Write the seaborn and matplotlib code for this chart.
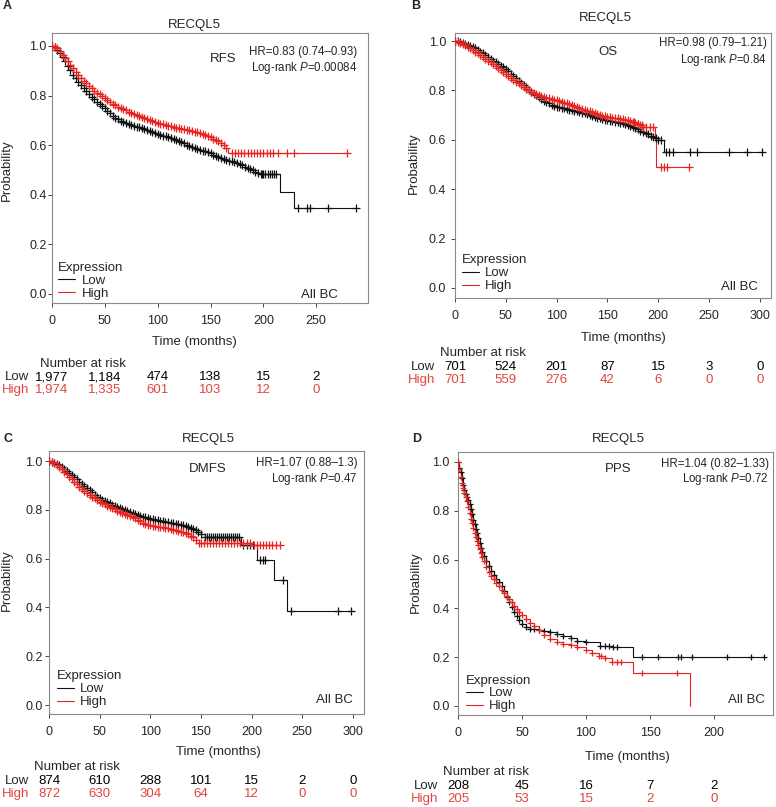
import matplotlib
matplotlib.use("Agg")
import matplotlib.pyplot as plt
import matplotlib.transforms as mtransforms
import seaborn as sns
import numpy as np

sns.set_style("ticks")
plt.rcParams["font.family"] = ["Liberation Sans", "DejaVu Sans"]
plt.rcParams["mathtext.fontset"] = "custom"
plt.rcParams["mathtext.rm"] = "Liberation Sans"
plt.rcParams["mathtext.it"] = "Liberation Sans:italic"

W, H = 776, 807
LOW_COLOR = "#111111"
HIGH_COLOR = "#e8231f"
RISK_RED = "#e0463f"
FRAME = "#8a8a8a"

grid_t = [0, 2.5, 5, 7.5, 10, 12.5, 15, 17.5, 20, 22.5,
          25, 27.5, 30, 32.5, 35, 37.5, 40, 42.5, 45, 47.5,
          50, 52.5, 55, 57.5, 60, 62.5, 65, 67.5, 70, 72.5,
          75, 77.5, 80, 82.5, 85, 87.5, 90, 92.5, 95, 97.5,
          100, 102.5, 105, 107.5, 110, 112.5, 115, 117.5, 120, 122.5,
          125, 127.5, 130, 132.5, 135, 137.5, 140, 142.5, 145, 147.5,
          150, 152.5, 155, 157.5, 160, 162.5, 165, 167.5, 170, 172.5,
          175, 177.5, 180, 182.5, 185, 187.5, 190, 192.5, 195, 197.5]

# --------------------------------------------------
# Panel A: RFS
# --------------------------------------------------
a_low_t = grid_t + [200, 216, 229, 288]
a_low_s = [1.0, .995, .985, .972, .955, .938, .92, .902, .885, .87,
           .855, .842, .83, .817, .805, .795, .785, .775, .765, .757,
           .748, .738, .728, .718, .71, .704, .698, .693, .688, .684,
           .681, .678, .675, .672, .668, .664, .66, .656, .652, .648,
           .645, .641, .638, .636, .633, .629, .625, .62, .615, .611,
           .607, .602, .598, .594, .59, .585, .58, .578, .575, .571,
           .567, .561, .556, .552, .548, .545, .542, .538, .535, .533,
           .53, .525, .52, .514, .508, .503, .498, .492, .487, .485,
           .483, .412, .345, .345]
a_low_cens = [199, 202, 204, 206, 208, 210, 212, 233, 241, 244, 261, 288]
a_high_t = grid_t[:67] + [167, 279]
a_high_s = [1.0, .997, .99, .978, .965, .953, .94, .925, .91, .897,
            .885, .872, .86, .85, .84, .83, .82, .812, .805, .797,
            .79, .782, .775, .768, .762, .756, .75, .745, .74, .735,
            .731, .727, .723, .719, .715, .71, .706, .702, .698, .694,
            .69, .687, .684, .681, .679, .676, .673, .67, .668, .666,
            .664, .662, .66, .658, .655, .652, .648, .644, .64, .636,
            .632, .626, .62, .615, .61, .6, .59,
            .57, .57]
a_high_cens = [170, 173, 176, 179, 182, 185, 188, 191, 194, 197, 200, 203, 206, 209,
               214, 222, 229, 279]
a_risk_t = [0, 50, 100, 150, 200, 250]
a_risk_low = [1977, 1184, 474, 138, 15, 2]
a_risk_high = [1974, 1335, 601, 103, 12, 0]

# --------------------------------------------------
# Panel B: OS
# --------------------------------------------------
b_low_t = grid_t + [200, 206, 302]
b_low_s = [1.0, .998, .995, .992, .988, .984, .98, .975, .97, .964,
           .957, .95, .942, .935, .928, .92, .913, .907, .9, .893,
           .885, .877, .868, .859, .85, .84, .83, .821, .812, .803,
           .795, .787, .78, .773, .766, .759, .753, .747, .742, .738,
           .734, .732, .73, .727, .725, .722, .72, .717, .715, .712,
           .71, .707, .705, .701, .698, .694, .69, .687, .684, .682,
           .68, .678, .676, .674, .672, .67, .667, .663, .66, .655,
           .65, .646, .642, .637, .632, .627, .622, .617, .612, .606,
           .6, .55, .55]
b_low_cens = [203, 208, 211, 215, 231, 238, 270, 287, 302]
b_high_t = grid_t[:75] + [197, 198, 230]
b_high_s = [1.0, .997, .993, .988, .982, .976, .97, .964, .957, .95,
            .943, .935, .928, .92, .913, .905, .897, .89, .882, .875,
            .867, .859, .851, .843, .836, .828, .82, .813, .806, .8,
            .795, .79, .786, .782, .778, .774, .771, .768, .765, .762,
            .76, .756, .753, .75, .747, .743, .74, .736, .733, .729,
            .725, .721, .718, .715, .712, .708, .705, .701, .698, .695,
            .693, .691, .69, .689, .688, .686, .685, .682, .68, .677,
            .673, .668, .663, .658, .653,
            .60, .49, .49]
b_high_cens = [176, 180, 184, 188, 192, 195, 203, 206, 209, 230]
b_risk_t = [0, 50, 100, 150, 200, 250, 300]
b_risk_low = [701, 524, 201, 87, 15, 3, 0]
b_risk_high = [701, 559, 276, 42, 6, 0, 0]

# --------------------------------------------------
# Panel C: DMFS
# --------------------------------------------------
c_low_t = grid_t[:60] + [150, 154, 190, 205, 222, 235, 300]
c_low_s = [1.0, .997, .993, .988, .982, .975, .968, .96, .952, .944,
           .935, .925, .915, .906, .897, .888, .88, .871, .862, .854,
           .847, .841, .836, .831, .826, .821, .817, .812, .808, .804,
           .8, .795, .791, .786, .782, .778, .775, .772, .769, .766,
           .764, .762, .76, .757, .755, .753, .751, .749, .747, .744,
           .742, .74, .738, .736, .733, .73, .727, .722, .716, .709,
           .702, .687, .655, .596, .512, .384, .384]
c_low_cens = [156, 158, 160, 162, 164, 166, 168, 170, 172, 174, 176, 178, 180, 182, 184,
              186, 188, 192, 195, 198, 201, 208, 211, 213, 231, 239, 285, 298]
c_high_t = grid_t[:59] + [148, 200, 228]
c_high_s = [1.0, .996, .99, .983, .975, .966, .956, .946, .935, .925,
            .915, .905, .895, .886, .878, .87, .862, .854, .847, .84,
            .833, .827, .822, .817, .812, .807, .802, .797, .793, .788,
            .784, .78, .775, .77, .765, .759, .753, .747, .742, .739,
            .736, .734, .733, .731, .73, .728, .727, .725, .722, .719,
            .716, .713, .71, .707, .703, .699, .694, .687, .678,
            .665, .655, .655]
c_high_cens = [150, 153, 156, 159, 162, 165, 168, 171, 174, 177, 180, 183, 186, 189, 192,
               195, 198, 202, 205, 208, 211, 214, 217, 220, 224, 228]
c_risk_t = [0, 50, 100, 150, 200, 250, 300]
c_risk_low = [874, 610, 288, 101, 15, 2, 0]
c_risk_high = [872, 630, 304, 64, 12, 0, 0]

# --------------------------------------------------
# Panel D: PPS
# --------------------------------------------------
d_low_t = [0, 1, 2, 3, 4, 5, 6, 7, 8, 9, 10, 11, 12, 13, 14, 15, 16, 17, 18, 19, 20,
           22, 24, 26, 28, 30, 32, 34, 36, 38, 40, 42, 44, 46, 48, 50,
           53, 56, 59, 63, 67, 72, 77, 82, 88, 93, 100, 111, 120, 137, 239]
d_low_s = [1.0, 0.975, 0.96, 0.935, 0.905, 0.885, 0.87, 0.858, 0.843, 0.826, 0.808, 0.788,
           0.763, 0.745, 0.727, 0.71, 0.69, 0.668, 0.648, 0.63, 0.614,
           0.593, 0.573, 0.555, 0.538, 0.522, 0.508, 0.49, 0.471, 0.447, 0.425, 0.405,
           0.385, 0.369, 0.352, 0.335,
           0.322, 0.317, 0.315, 0.312, 0.308, 0.302, 0.295, 0.288, 0.278, 0.268, 0.262,
           0.247, 0.243, 0.20, 0.20]
d_low_cens = [115, 118, 121, 124, 144, 156, 172, 174, 183, 210, 229, 239]
d_high_t = [0, 1, 2, 3, 4, 5, 6, 7, 8, 9, 10, 11, 12, 13, 14, 15, 16, 17, 18, 19, 20,
            22, 24, 26, 28, 30, 32, 34, 36, 38, 40, 42, 44, 46, 48, 50,
            53, 56, 59, 63, 67, 72, 77, 82, 88, 93, 100, 105, 110, 115, 120, 137, 181]
d_high_s = [1.0, 0.97, 0.94, 0.915, 0.893, 0.875, 0.857, 0.84, 0.815, 0.79, 0.768, 0.748,
            0.728, 0.71, 0.693, 0.676, 0.66, 0.645, 0.628, 0.61, 0.595,
            0.57, 0.55, 0.533, 0.52, 0.505, 0.49, 0.475, 0.462, 0.45, 0.438, 0.425, 0.41,
            0.398, 0.385, 0.372,
            0.355, 0.34, 0.327, 0.31, 0.29, 0.275, 0.262, 0.255, 0.248, 0.24, 0.228, 0.218,
            0.205, 0.195, 0.18, 0.137, 0.0]
d_high_cens = [112, 124, 127, 144, 171]
d_risk_t = [0, 50, 100, 150, 200]
d_risk_low = [208, 45, 16, 7, 2]
d_risk_high = [205, 53, 15, 2, 0]

names = ["RFS", "OS", "DMFS", "PPS"]
hr_text = ["HR=0.83 (0.74\u20130.93)", "HR=0.98 (0.79\u20131.21)",
           "HR=1.07 (0.88\u20131.3)", "HR=1.04 (0.82\u20131.33)"]
p_text = ["0.00084", "0.84", "0.47", "0.72"]


def fig_text(fig, x, y, s, **kw):
    fig.text(x / W, 1 - y / H, s, **kw)


def draw_curve(ax, t, s, cens, band_end, color, label, msize):
    t = np.asarray(t, float)
    s = np.asarray(s, float)
    sns.lineplot(x=t, y=s, drawstyle="steps-post", color=color, lw=0.8,
                 estimator=None, sort=False, label=label, ax=ax)
    mt = np.concatenate([t[t <= band_end], np.asarray(cens, float)])
    idx = np.searchsorted(t, mt, side="right") - 1
    sns.scatterplot(x=mt, y=s[idx], marker="+", color=color, s=msize, linewidth=0.9,
                    ax=ax, zorder=3, legend=False)


fig = plt.figure(figsize=(W / 100, H / 100), dpi=100)

panels = [
    dict(letter="A", box=(52, 33, 368, 303), y0=294, y1=46, xmax=299, xticks=a_risk_t,
         low=(a_low_t, a_low_s, a_low_cens, 200), high=(a_high_t, a_high_s, a_high_cens, 165),
         risk=(a_risk_t, a_risk_low, a_risk_high), ypad=1.0, msize=28,
         letter_xy=(3, 6), title_xy=(194, 25), name_xy=(223, 59), hr=(357, 52, 68),
         xlab=(194, 342), ylab=(7, 170), head=(40, 364), rows=(29, 377, 390),
         allbc=(338, 295), leg=(0.02, 0.012)),
    dict(letter="B", box=(455, 33, 771, 298), y0=288, y1=41, xmax=311, xticks=b_risk_t,
         low=(b_low_t, b_low_s, b_low_cens, 200), high=(b_high_t, b_high_s, b_high_cens, 185),
         risk=(b_risk_t, b_risk_low, b_risk_high), ypad=3.5, msize=28,
         letter_xy=(411, 6), title_xy=(605, 18), name_xy=(608, 52), hr=(767, 43, 60),
         xlab=(623, 338), ylab=(414, 163), head=(440, 353), rows=(435, 367, 380),
         allbc=(758, 287), leg=(0.022, 0.022)),
    dict(letter="C", box=(49, 451, 364, 714), y0=705, y1=461, xmax=311, xticks=c_risk_t,
         low=(c_low_t, c_low_s, c_low_cens, 154), high=(c_high_t, c_high_s, c_high_cens, 148),
         risk=(c_risk_t, c_risk_low, c_risk_high), ypad=1.5, msize=28,
         letter_xy=(3, 439), title_xy=(208, 439), name_xy=(208, 469), hr=(358, 463, 479),
         xlab=(218, 752), ylab=(7, 580), head=(34, 767), rows=(29, 781, 794),
         allbc=(353, 700), leg=(0.024, 0.022)),
    dict(letter="D", box=(458, 452, 773, 715), y0=706, y1=462, xmax=246, xticks=d_risk_t,
         low=(d_low_t, d_low_s, d_low_cens, 111), high=(d_high_t, d_high_s, d_high_cens, 120),
         risk=(d_risk_t, d_risk_low, d_risk_high), ypad=3.0, msize=24,
         letter_xy=(412, 439), title_xy=(618, 439), name_xy=(618, 469), hr=(769, 464, 479),
         xlab=(627, 757), ylab=(416, 582), head=(443, 772), rows=(438, 786, 799),
         allbc=(765, 700), leg=(0.024, 0.01)),
]

for i, p in enumerate(panels):
    left, top, right, bottom = p["box"]
    ax = fig.add_axes([left / W, 1 - bottom / H, (right - left) / W, (bottom - top) / H])

    draw_curve(ax, *p["low"], LOW_COLOR, "Low", p["msize"])
    draw_curve(ax, *p["high"], HIGH_COLOR, "High", p["msize"])

    per_unit = p["y0"] - p["y1"]
    ax.set_ylim(-(bottom - p["y0"]) / per_unit, 1 + (p["y1"] - top) / per_unit)
    ax.set_xlim(0, p["xmax"])
    ax.set_yticks([0, 0.2, 0.4, 0.6, 0.8, 1.0])
    ax.set_yticklabels(["0.0", "0.2", "0.4", "0.6", "0.8", "1.0"])
    ax.set_xticks(p["xticks"])
    ax.set_xlabel("")
    ax.set_ylabel("")
    for sp in ax.spines.values():
        sp.set_color(FRAME)
        sp.set_linewidth(0.8)
    ax.tick_params(length=3, width=0.7, color="#444444", labelsize=9)
    ax.tick_params(axis="x", pad=5.5)
    ax.tick_params(axis="y", pad=p["ypad"])

    ax.legend(title="Expression", loc="lower left", bbox_to_anchor=p["leg"], frameon=False,
              fontsize=9.5, title_fontsize=9.5, handlelength=1.3, handletextpad=0.45,
              labelspacing=0.05, borderpad=0, borderaxespad=0, alignment="left")

    # texts
    fig_text(fig, *p["letter_xy"], p["letter"], fontsize=9, fontweight="bold",
             ha="left", va="center")
    fig_text(fig, *p["title_xy"], "RECQL5", fontsize=9.5, ha="center", va="center")
    fig_text(fig, *p["name_xy"], names[i], fontsize=9.5, ha="center", va="center")
    hx, hy1, hy2 = p["hr"]
    fig_text(fig, hx, hy1, hr_text[i], fontsize=8.3, ha="right", va="center")
    fig_text(fig, hx, hy2, "Log-rank $\\it{P}$=" + p_text[i], fontsize=8.3,
             ha="right", va="center")
    fig_text(fig, *p["xlab"], "Time (months)", fontsize=9.5, ha="center", va="center")
    fig_text(fig, *p["ylab"], "Probability", fontsize=9.5, ha="center", va="center",
             rotation=90)
    fig_text(fig, *p["allbc"], "All BC", fontsize=9.5, ha="right", va="center")

    # number at risk table
    fig_text(fig, *p["head"], "Number at risk", fontsize=9.5, ha="left", va="center")
    rx, ry_low, ry_high = p["rows"]
    fig_text(fig, rx, ry_low, "Low", fontsize=9.5, ha="right", va="center")
    fig_text(fig, rx, ry_high, "High", fontsize=9.5, ha="right", va="center", color=RISK_RED)
    trans = mtransforms.blended_transform_factory(ax.transData, fig.transFigure)
    rt, rlow, rhigh = p["risk"]
    for t, lo, hi in zip(rt, rlow, rhigh):
        ax.text(t, 1 - ry_low / H, f"{lo:,}", transform=trans, ha="center", va="center",
                fontsize=9.5, color="black")
        ax.text(t, 1 - ry_high / H, f"{hi:,}", transform=trans, ha="center", va="center",
                fontsize=9.5, color=RISK_RED)

fig.savefig("out.png", dpi=100)
